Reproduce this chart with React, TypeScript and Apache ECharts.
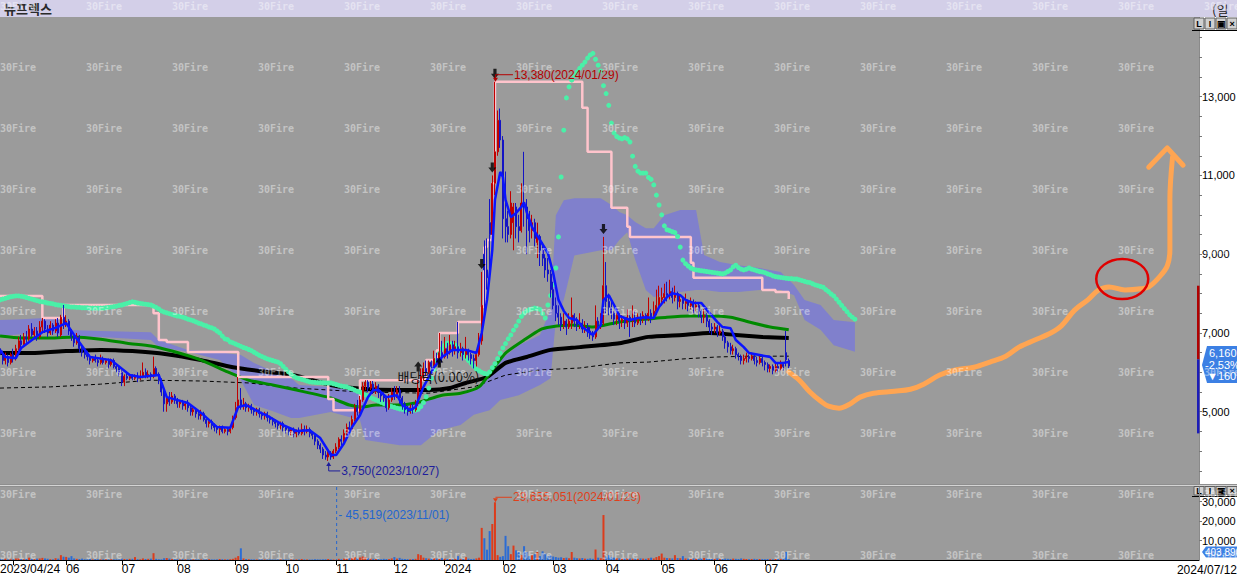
import React, { useEffect, useRef } from 'react';
import * as echarts from 'echarts';

const stockName = '뉴프렉스';
const periodLabel = '(일';
const SLOT_COUNT = 454;
const PRICE_MIN = 3164;
const PRICE_MAX = 15024;
const VOL_MAX = 37500;

const monthTicks: [number, string][] = [
  [0, '2023/04/24'], [5, ''], [25, '06'], [46, '07'], [67, '08'], [89, '09'], [108, '10'], [127, '11'],
  [149, '12'], [168, '2024'], [190, '02'], [209, '03'], [229, '04'], [250, '05'], [270, '06'], [289, '07'],
];
const endDateLabel = '2024/07/12';
const priceLabels = [5000, 7000, 9000, 11000, 13000];
const priceTicks = [3500, 4000, 4500, 5000, 5500, 6000, 6500, 7000, 7500, 8000, 8500, 9000, 9500, 10000, 10500, 11000, 11500, 12000, 12500, 13000, 13500, 14000, 14500, 15000];
const volumeLabels = [10000, 20000, 30000];

// [open, close, low, high]
const candles = [
  [6600,6450,6350,6700],[6450,6300,6200,6550],[6300,6400,6200,6500],[6400,6250,6150,6450],[6250,6450,6200,6500],
  [6450,6350,6250,6600],[6350,6600,6300,6700],[6600,6800,6550,6900],[6800,6700,6600,6950],[6700,6900,6650,7000],
  [6900,6850,6750,7050],[6850,7100,6800,7200],[7100,6950,6900,7250],[6950,7050,6850,7150],[7050,6900,6800,7150],
  [6900,7150,6850,7300],[7150,7300,7050,7380],[7300,7100,7000,7350],[7100,7000,6900,7200],[7000,7200,6950,7300],
  [7200,7050,6950,7250],[7050,7250,7000,7350],[7250,7000,6900,7380],[6950,7400,6900,7460],[7400,7250,7100,7710],
  [7250,7300,7150,7450],[7300,7050,6950,7350],[7050,6900,6800,7100],[6900,6750,6650,7000],[6750,6900,6700,7000],
  [6900,6600,6500,6950],[6600,6500,6400,6700],[6500,6450,6350,6600],[6450,6400,6300,6550],[6400,6300,6200,6450],
  [6300,6350,6250,6400],[6350,6300,6250,6450],[6300,6250,6150,6350],[6250,6350,6200,6450],[6350,6250,6200,6400],
  [6250,6300,6200,6350],[6300,6200,6100,6350],[6200,6300,6150,6350],[6300,6150,6100,6350],[6150,6100,6000,6200],
  [6100,6000,5900,6150],[6000,5750,5650,6050],[5750,5900,5650,5950],[5900,5850,5800,6000],[5850,5900,5800,5950],
  [5900,5850,5800,5950],[5850,5900,5800,5950],[5900,5850,5750,6000],[5850,5900,5800,6050],[5900,6000,5850,6250],
  [6000,5900,5850,6100],[5900,5950,5850,6050],[5950,5900,5800,6000],[5900,6100,5850,6400],[6100,5950,5900,6150],
  [5950,5800,5700,6000],[5800,5500,5400,5850],[5500,5200,5000,5550],[5200,5350,5000,5400],[5350,5250,5150,5500],
  [5250,5400,5200,5500],[5400,5300,5200,5450],[5300,5200,5100,5350],[5200,5250,5100,5300],[5250,5150,5050,5300],
  [5150,5200,5050,5250],[5200,5100,5000,5300],[5100,5000,4900,5150],[5000,5050,4900,5100],[5050,4950,4850,5100],
  [4950,4900,4800,5000],[4900,4950,4800,5050],[4950,4800,4750,5000],[4800,4700,4600,4850],[4700,4750,4600,4800],
  [4750,4650,4550,4800],[4650,4600,4500,4700],[4600,4550,4450,4650],[4550,4600,4400,4650],[4600,4500,4450,4650],
  [4500,4550,4450,4600],[4550,4500,4400,4600],[4500,4600,4450,4650],[4600,4850,4550,4900],[4850,5100,4800,5250],
  [5100,5300,5050,5880],[5300,5150,5050,5600],[5150,5200,5050,5350],[5200,5100,5000,5250],[5100,5150,5000,5200],
  [5150,5050,4950,5200],[5050,5000,4900,5100],[5000,5050,4900,5100],[5050,4950,4850,5100],[4950,4900,4800,5000],
  [4900,4950,4800,5000],[4950,4850,4750,5000],[4850,4800,4700,4900],[4800,4750,4650,4850],[4750,4700,4600,4800],
  [4700,4650,4550,4750],[4650,4700,4550,4750],[4700,4600,4500,4750],[4600,4550,4450,4650],[4550,4500,4400,4600],
  [4500,4550,4400,4600],[4550,4450,4350,4600],[4450,4500,4350,4550],[4500,4450,4400,4600],[4450,4550,4400,4700],
  [4550,4500,4400,4650],[4500,4550,4450,4650],[4550,4450,4350,4600],[4450,4400,4300,4500],[4400,4250,4150,4450],
  [4250,4150,4050,4300],[4150,4050,3950,4200],[4050,3900,3800,4100],[3900,3850,3780,4000],[3850,3950,3750,4000],
  [3950,3850,3780,4000],[3850,4000,3800,4050],[4000,4100,3950,4200],[4100,4300,4050,4350],[4300,4250,4150,4400],
  [4250,4450,4200,4550],[4450,4600,4400,4700],[4600,4550,4450,4750],[4550,4800,4500,4900],[4800,5100,4750,5200],
  [5100,5000,4900,5300],[5000,5300,4950,5400],[5300,5650,5250,5750],[5650,5750,5550,5800],[5750,5600,5500,5800],
  [5600,5700,5550,5780],[5700,5550,5450,5780],[5550,5650,5450,5750],[5650,5500,5350,5700],[5500,5400,5250,5550],
  [5400,5350,5250,5500],[5350,5100,5000,5400],[5100,5300,5050,5450],[5300,5500,5250,5600],[5500,5400,5300,5650],
  [5400,5550,5350,5650],[5550,5350,5200,5650],[5350,5200,5050,5400],[5200,5050,4950,5250],[5050,5000,4900,5150],
  [5000,5100,4950,5200],[5100,5050,4950,5200],[5050,5200,5000,5300],[5200,5600,5150,5800],[5600,5900,5550,6100],
  [5900,6100,5800,6250],[6100,6000,5900,6300],[6000,6250,5950,6300],[6250,6150,6050,6300],[6150,6350,6100,6550],
  [6350,6250,6150,6500],[6250,6500,6200,7000],[6500,6400,6250,6800],[6400,6600,6350,6900],[6600,6500,6350,6750],
  [6500,6700,6450,6950],[6700,6550,6400,6800],[6550,6650,6450,6800],[6650,6500,6350,7280],[6500,6600,6400,6750],
  [6600,6450,6300,6650],[6450,6550,6350,6900],[6550,6450,6300,6600],[6450,6350,6200,6500],[6350,6300,6100,6450],
  [6300,6450,6150,6550],[6450,6800,6400,7000],[6800,7700,6700,8550],[9000,8600,7500,9350],[8600,8400,8100,9400],
  [9800,9500,8600,10400],[9500,10800,9300,11000],[10800,11600,10500,13380],[11600,12400,11500,12650],[12400,11900,11700,12700],
  [11900,9900,9400,12000],[9900,9700,9300,11100],[9700,9500,9300,10100],[9500,10300,9400,10600],[9800,10200,9100,10300],
  [10200,9700,9400,10300],[9700,9600,9300,10000],[9600,10300,9550,10800],[10300,10200,9700,11600],[10200,9900,9000,10400],
  [9900,9600,9300,10100],[9600,9800,9400,10000],[9800,9400,9200,9900],[9300,9450,8900,9800],[9450,9100,8700,9500],
  [9100,8900,8700,9300],[8900,8600,8400,9000],[8600,8500,8300,8900],[8500,8100,7900,8600],[8100,7700,7600,8300],
  [7700,7500,7300,7900],[7500,7400,7200,7700],[7400,7200,7050,7500],[7200,7300,7100,7500],[7300,7150,6950,7350],
  [7150,7300,7100,7500],[7250,7450,7100,7900],[7450,7300,7150,7500],[7300,7200,7050,7400],[7200,7250,7100,7500],
  [7250,7100,7000,7350],[7100,7150,7000,7300],[7150,7050,6900,7250],[7050,6950,6850,7150],[6950,6900,6800,7050],
  [6900,7300,6850,7700],[7300,7200,7100,7400],[7200,7250,7100,7500],[7250,8200,7200,9440],[8200,7800,7500,8800],
  [7800,7650,7450,8000],[7650,7500,7350,7800],[7500,7350,7200,7550],[7350,7450,7200,7500],[7450,7300,7100,7500],
  [7300,7350,7150,7450],[7350,7250,7100,7400],[7250,7400,7150,7600],[7400,7300,6900,7450],[7300,7350,7150,7700],
  [7350,7250,7150,7550],[7250,7400,7200,7500],[7400,7350,7200,7500],[7350,7450,7250,7550],[7450,7350,7200,7500],
  [7350,7500,7300,7900],[7500,7400,7250,7600],[7400,7550,7350,7800],[7550,7700,7450,8100],[7700,7900,7600,8200],
  [7850,7900,7700,8150],[7900,8000,7750,8250],[8000,7950,7800,8300],[7950,8050,7850,8350],[8050,7900,7750,8150],
  [7900,8000,7800,8200],[8000,7800,7600,8050],[7800,7850,7650,7950],[7850,7750,7600,7900],[7750,7800,7600,8000],
  [7800,7700,7550,7850],[7700,7750,7600,7900],[7750,7650,7500,7850],[7650,7700,7550,7800],[7700,7550,7400,7750],
  [7550,7400,7250,7600],[7400,7450,7250,7600],[7450,7300,7150,7500],[7300,7150,7000,7350],[7150,7100,6950,7250],
  [7100,7150,7000,7250],[7150,7000,6900,7200],[7000,7050,6950,7250],[7050,6900,6800,7100],[6900,6750,6600,6950],
  [6750,6650,6500,6800],[6650,6550,6450,6750],[6550,6600,6450,6700],[6600,6450,6350,6650],[6450,6400,6300,6500],
  [6400,6300,6200,6450],[6300,6350,6200,6450],[6350,6400,6250,6500],[6400,6350,6250,6450],[6350,6400,6300,6500],
  [6400,6300,6200,6450],[6300,6250,6150,6400],[6250,6350,6200,6450],[6350,6250,6150,6400],[6250,6200,6050,6300],
  [6200,6100,6000,6250],[6100,6150,6000,6200],[6150,6050,5950,6200],[6050,6150,6000,6250],[6150,6100,6000,6250],
  [6100,6200,6050,6300],[6200,6150,6050,6250],[6500,6320,6150,7050],[6300,6160,6100,6350],
];

// volume in thousands of shares
const volumes = [
  520,310,640,280,400,350,760,900,450,380,600,1200,520,430,700,800,1100,800,640,420,350,900,700,2500,1700,
  1600,1200,2000,800,600,500,700,400,350,600,300,450,380,300,400,350,300,420,380,350,300,700,500,400,600,
  600,1500,400,350,800,500,600,700,3500,600,400,350,900,1000,700,500,400,350,300,450,300,280,350,320,300,
  280,300,250,350,400,300,280,320,500,400,300,350,400,600,1200,2000,6000,800,500,400,350,300,280,320,300,
  280,260,300,250,240,280,300,260,240,220,260,240,300,280,500,300,260,240,280,400,350,300,350,400,500,
  300,250,45.519,600,400,700,800,900,1000,1500,800,1300,1800,1500,900,700,600,500,450,400,600,500,450,800,1500,
  700,1100,600,500,450,400,500,600,3000,2500,1200,900,700,800,1000,700,600,900,700,500,450,400,600,2000,500,
  600,1500,700,500,600,800,1200,16500,11200,5300,14850,18500,29655.051,2500,1650,2000,12400,7100,3000,7400,4950,4100,2500,7100,4100,
  2000,2500,3000,4100,2000,4450,3300,2000,2500,1800,1500,1200,1400,1000,1200,900,4100,1200,900,800,1000,700,600,800,600,
  5400,1200,900,23100,1700,2500,1500,1200,900,800,700,1000,800,700,600,900,600,800,700,600,900,1200,800,1500,2000,
  3300,1200,1000,900,800,2500,1000,900,2000,800,700,600,800,700,600,900,1000,700,600,500,600,800,600,500,700,
  600,500,700,600,500,800,600,500,400,500,600,400,500,450,400,500,450,400,500,600,500,700,4100,403.89,
];

// moving averages read as [slot, price]
const ma5 = [[0,6570],[2,6390],[6,6360],[8,6620],[16,7020],[21,7130],[25,7250],[28,6950],[34,6390],[42,6310],[49,5930],[53,5880],[60,5930],[63,5370],[71,5220],[76,4970],[82,4610],[87,4590],[90,5120],[93,5170],[98,4990],[102,4860],[107,4660],[112,4510],[117,4530],[121,4330],[125,3900],[127,3900],[130,4200],[133,4610],[136,4910],[139,5370],[141,5550],[143,5550],[146,5370],[150,5420],[152,5170],[155,5040],[157,5120],[160,5630],[164,6130],[167,6390],[171,6570],[176,6570],[180,6490],[182,7000],[184,7840],[186,9110],[187,10380],[189,11090],[190,10960],[191,10380],[193,9940],[195,10050],[197,10200],[198,10320],[199,10070],[201,9690],[204,9360],[207,9030],[209,8520],[211,7840],[213,7560],[215,7380],[218,7330],[220,7150],[224,6950],[227,7200],[228,7840],[230,7960],[232,7710],[234,7430],[238,7330],[241,7380],[244,7400],[247,7380],[249,7660],[252,7910],[254,8010],[257,7960],[259,7840],[262,7760],[265,7760],[268,7510],[271,7280],[273,7150],[276,7120],[278,6820],[281,6640],[283,6490],[287,6440],[291,6390],[293,6240],[296,6240],[298,6260]];
const ma60 = [[0,6920],[8,6870],[19,6870],[28,6900],[38,6840],[48,6740],[57,6670],[65,6540],[76,6310],[86,6010],[94,5800],[103,5680],[112,5550],[125,5350],[132,5170],[137,5120],[142,5170],[150,5170],[157,5220],[167,5420],[174,5470],[181,5630],[186,6060],[191,6490],[198,6820],[204,7080],[208,7150],[216,7200],[224,7150],[234,7280],[241,7330],[252,7400],[261,7430],[268,7430],[276,7400],[283,7280],[291,7150],[298,7080]];
const ma120 = [[0,6490],[12,6490],[25,6540],[38,6570],[50,6540],[63,6460],[76,6310],[88,6130],[101,6010],[111,5930],[125,5680],[137,5580],[150,5550],[162,5550],[170,5600],[176,5730],[184,5880],[191,6240],[199,6390],[208,6570],[219,6640],[234,6740],[245,6900],[258,6950],[268,7000],[278,6950],[288,6900],[298,6870]];
const ma240 = [[0,5600],[19,5630],[38,5700],[57,5800],[76,5780],[94,5730],[112,5600],[137,5500],[162,5470],[179,5630],[191,5930],[204,6060],[219,6110],[234,6240],[245,6260],[258,6340],[271,6390],[283,6410],[298,6410]];
const highLine = [[0,7940],[16,7380],[24,7710],[58,7500],[60,6820],[63,6770],[71,6515],[90,5880],[124,5320],[126,5040],[136,5800],[161,6310],[165,6560],[166,7000],[173,7280],[182,7660],[183,9180],[184,9360],[186,10800],[187,13380],[220,12720],[222,11600],[231,10180],[237,9700],[238,9440],[261,8780],[262,8400],[288,8090],[293,8040],[298,7860]];

// dotted indicator, one value per slot
const aqua = [
  7840,7860,7880,7900,7920,7930,7940,7940,7930,7920, 7900,7880,7860,7840,7820,7800,7790,7780,7760,7750,
  7740,7720,7710,7700,7690,7680,7670,7660,7660,7650, 7650,7640,7640,7640,7630,7630,7630,7630,7630,7630,
  7640,7650,7660,7670,7680,7700,7710,7730,7750,7770, 7790,7780,7760,7750,7740,7730,7720,7710,7680,7650,
  7610,7560,7530,7510,7490,7470,7450,7430,7420,7400, 7380,7350,7330,7310,7280,7250,7230,7200,7180,7150,
  7130,7100,7050,7000,6920,6850,6830,6770,6750,6720, 6690,6660,6630,6610,6580,6550,6510,6470,6430,6400,
  6370,6340,6320,6300,6280,6260,6220,6150,6080,6010, 5950,5900,5860,5840,5820,5800,5780,5760,5750,5745,
  5740,5740,5735,5730,5730,5730,5710,5690,5670,5650, 5640,5630,5600,5580,5550,5520,5500,5460,5430,5400,
  5360,5330,5300,5270,5240,5210,5180,5150,5130,5110, 5090,5070,5060,5050,5040,5040,5040,5040,5060,5130,
  5230,5380,5600,5850,6070,6300,6480,6600,6690,6740, 6730,6710,6690,6620,6550,6470,6370,6300,6230,6150,
  6080,6040,6000,5970,5960,6010,6120,6220,6350,6490, 6620,6730,6850,6950,7070,7180,7300,7420,7500,7560,
  7590,7610,7630,7620,7600,7490,7380,7710,7950,8220, 8650,9440,10960,12150,12970,13250,13420,13540,13630,13720,
  13800,13880,13980,14060,14100,13950,13800,13650,13280,13080, 12780,12330,12080,11990,11950,11930,11960,11930,11850,11490,
  11230,11110,11060,11060,11060,10950,10900,10760,10500,10250, 10000,9720,9620,9600,9570,9550,9450,9180,8850,8760,
  8700,8650,8620,8600,8590,8580,8570,8560,8550,8540, 8530,8520,8510,8500,8520,8560,8600,8680,8720,8660,
  8620,8600,8620,8650,8620,8600,8580,8560,8550,8530, 8500,8480,8450,8430,8420,8410,8400,8390,8380,8380,
  8370,8370,8350,8330,8310,8290,8280,8250,8220,8200, 8180,8160,8100,8050,7990,7940,7860,7780,7700,7620,
  7540,7460,7400,7350,
];

// cloud boundaries
const cloudIdx = [0,8,17,22,23,38,57,60,71,83,91,96,102,110,113,125,136,138,151,159,166,174,179,185,189,196,204,208,210,213,217,227,231,234,237,240,244,247,251,257,263,266,272,279,287,295,300,304,310,315,323];
const cloudTop = [7330,7350,7380,7380,7080,7050,7020,6820,6570,6510,6440,6240,6060,5850,5680,5630,5500,5170,5170,5250,5350,5420,5550,5930,6310,6690,6950,7580,9990,10370,10420,10420,10250,10070,9990,9820,9660,9660,9990,10120,10120,8980,8800,8720,8650,8550,8220,7840,7710,7330,7270];
const cloudBot = [6920,6970,7020,6970,6920,6900,6820,6640,6520,6310,5800,5170,5040,4840,4840,4990,4790,4280,4150,4150,4530,4660,4920,5040,5300,5420,5680,5850,7330,7840,8970,9100,9100,9360,9560,8850,8090,7910,7960,8040,8090,8090,8040,8040,8090,8090,7960,7330,7080,6690,6520];

const signalDown = [[182, 8550], [186, 11000], [187, 13380], [228, 9440]];
const signalUp = [[158, 6150], [166, 6250]];
const dividendMark = { idx: 166, price: 5900, text: '배당락(0.00%)' };

const peakIdx = 187, peakDate = '2024/01/29';
const troughIdx = 124, troughDate = '2023/10/27';
const minVolIdx = 127, minVolDate = '2023/11/01';
const rangeBar = [8200, 6330, 4450];

// hand-drawn forecast stroke
const forecastPath = [[298,6010],[302,5800],[306,5500],[310,5270],[313,5140],[317,5090],[321,5190],[325,5370],[330,5470],[338,5520],[344,5570],[349,5700],[355,5930],[361,6060],[368,6130],[374,6260],[380,6410],[385,6640],[391,6820],[397,7000],[401,7180],[406,7580],[411,7840],[415,8090],[419,8170],[425,8090],[431,8120],[434,8170],[438,8420],[441,8700],[442,9110],[442,10380],[443,11470]];
const forecastArrow = [[434,11210],[441,11700],[447,11260]];
const circleMark = { idx: 424, price: 8370 };

const FONT = '"Liberation Sans", Arial, sans-serif';
const KFONT = '"Noto Sans CJK KR", sans-serif';

export default function App() {
  const ref = useRef<HTMLDivElement>(null);
  useEffect(() => {
    const el = ref.current!;
    const chart = echarts.init(el, null, { renderer: 'svg' });
    const categories = Array.from({ length: SLOT_COUNT }, (_, i) => String(i));
    const tickMap = new Map(monthTicks);
    const volData = volumes.map((v, i) => ({
      value: v,
      itemStyle: { color: candles[i][1] >= candles[i][0] ? '#dc3c1c' : '#2c6cd4' },
    }));
    const cloudData = cloudIdx.map((d, k) => [d, cloudTop[k], cloudBot[k]]);
    const lineS = (data: any, color: string, width: number, z: number, extra: any = {}) => ({
      type: 'line', xAxisIndex: 0, yAxisIndex: 0, data, showSymbol: false, silent: true, z,
      lineStyle: { color, width, ...(extra.lineStyle || {}) }, ...extra.rest,
    });

    chart.setOption({
      animation: false,
      grid: [
        { left: 0, top: 17, width: 1199, height: 467, show: true, backgroundColor: '#9b9b9b', borderWidth: 0, outerBoundsMode: 'none' },
        { left: 0, top: 487, width: 1199, height: 73, show: true, backgroundColor: '#9b9b9b', borderWidth: 0, outerBoundsMode: 'none' },
      ],
      xAxis: [
        { type: 'category', gridIndex: 0, data: categories, boundaryGap: false, axisLine: { show: false }, axisTick: { show: false }, axisLabel: { show: false }, splitLine: { show: false } },
        {
          type: 'category', gridIndex: 1, data: categories, boundaryGap: false, position: 'bottom',
          axisLine: { show: true, lineStyle: { color: '#000', width: 1 } },
          axisTick: { show: true, length: 5, lineStyle: { color: '#000' }, interval: (i: number) => i > 0 && tickMap.has(i) },
          axisLabel: {
            show: true, interval: (i: number) => tickMap.has(i) && tickMap.get(i) !== '',
            formatter: (_v: string, i: number) => tickMap.get(i) ?? '',
            align: 'left', margin: 3, color: '#000', fontSize: 12, fontFamily: FONT,
          },
          splitLine: { show: false },
        },
      ],
      yAxis: [
        {
          type: 'value', gridIndex: 0, position: 'right', min: PRICE_MIN, max: PRICE_MAX, scale: true,
          axisLine: { show: true, lineStyle: { color: '#8a8a8a', width: 1 } },
          axisTick: { show: true, length: 3, customValues: priceTicks, lineStyle: { color: '#777' } },
          axisLabel: { show: true, customValues: priceLabels, margin: 3, color: '#000', fontSize: 11, fontFamily: FONT, formatter: (v: number) => v.toLocaleString('en-US') },
          splitLine: { show: false },
        },
        {
          type: 'value', gridIndex: 1, position: 'right', min: 0, max: VOL_MAX,
          axisLine: { show: true, lineStyle: { color: '#8a8a8a', width: 1 } },
          axisTick: { show: true, length: 3, customValues: volumeLabels, lineStyle: { color: '#777' } },
          axisLabel: { show: true, customValues: volumeLabels, margin: 3, color: '#000', fontSize: 11, fontFamily: FONT, formatter: (v: number) => v.toLocaleString('en-US') },
          splitLine: { show: false },
          z: 40,
        },
      ],
      series: [
        {
          type: 'custom', xAxisIndex: 0, yAxisIndex: 0, data: cloudData, encode: { x: 0, y: [1, 2] }, z: 1, silent: true,
          renderItem: (params: any, api: any) => {
            if (params.dataIndex !== 0) return null;
            const pts: number[][] = [];
            for (let k = 0; k < cloudIdx.length; k++) pts.push(api.coord([cloudIdx[k], cloudTop[k]]));
            for (let k = cloudIdx.length - 1; k >= 0; k--) pts.push(api.coord([cloudIdx[k], cloudBot[k]]));
            return { type: 'polygon', shape: { points: pts }, style: { fill: '#8080cc' } };
          },
        },
        lineS(ma240, '#000', 1, 2, { lineStyle: { type: [4, 3] } }),
        lineS(ma120, '#000', 4, 2, { rest: { smooth: 0.2 } }),
        lineS(ma60, '#008a00', 3, 2, { rest: { smooth: 0.2 } }),
        {
          type: 'line', xAxisIndex: 0, yAxisIndex: 0, data: aqua, silent: true, z: 3,
          showSymbol: true, showAllSymbol: true, symbol: 'circle', symbolSize: 5,
          itemStyle: { color: '#4af0a8' }, lineStyle: { width: 0, opacity: 0 },
        },
        lineS(highLine, '#ffc4cc', 2.5, 3, { rest: { step: 'end' } }),
        {
          type: 'candlestick', xAxisIndex: 0, yAxisIndex: 0, data: candles, barWidth: 1.5, z: 4, silent: true,
          itemStyle: { color: '#c00000', color0: '#1414c4', borderColor: '#c00000', borderColor0: '#1414c4', borderWidth: 1 },
        },
        lineS(ma5, '#0a14ff', 2.5, 5),
        {
          type: 'scatter', xAxisIndex: 0, yAxisIndex: 0, data: signalDown, z: 6, silent: true,
          symbol: 'path://M3,0L7,0L7,6L10,6L5,12L0,6L3,6Z', symbolSize: [8, 10], symbolOffset: [0, -8],
          itemStyle: { color: '#000' },
        },
        {
          type: 'scatter', xAxisIndex: 0, yAxisIndex: 0, data: signalUp, z: 6, silent: true,
          symbol: 'path://M5,0L10,6L7,6L7,12L3,12L3,6L0,6Z', symbolSize: [8, 10],
          itemStyle: { color: '#000' },
        },
        lineS(forecastPath, '#ffa552', 5, 6, { lineStyle: { cap: 'round', join: 'round' }, rest: { smooth: 0.35 } }),
        lineS(forecastArrow, '#ffa552', 5, 6, { lineStyle: { cap: 'round', join: 'round' } }),
        {
          type: 'bar', xAxisIndex: 1, yAxisIndex: 1, data: volData, barWidth: 2, silent: true, z: 3,
        },
      ],
    });

    const P = (i: number, v: number) => chart.convertToPixel({ xAxisIndex: 0, yAxisIndex: 0 }, [i, v]) as number[];
    const V = (i: number, v: number) => chart.convertToPixel({ xAxisIndex: 1, yAxisIndex: 1 }, [i, v]) as number[];
    const T = (x: number, y: number, s: string, font: string, fill: string, align = 'left', z = 30) => ({
      type: 'text', x, y, z, silent: true,
      style: { text: s, font, fill, align, textAlign: align, verticalAlign: 'middle', textVerticalAlign: 'middle' },
    });
    const Ln = (x1: number, y1: number, x2: number, y2: number, stroke: string, lineWidth = 1, lineDash?: number[]) => ({
      type: 'line', z: 30, silent: true, shape: { x1, y1, x2, y2 }, style: { stroke, lineWidth, lineDash },
    });
    const Pg = (points: number[][], fill: string, z = 30) => ({ type: 'polygon', z, silent: true, shape: { points }, style: { fill } });
    const R = (x: number, y: number, w: number, h: number, fill: string, stroke?: string, z = 25) => ({
      type: 'rect', z, silent: true, shape: { x, y, width: w, height: h }, style: { fill, stroke, lineWidth: stroke ? 1 : 0 },
    });

    const g: any[] = [];
    // title bar
    g.push(R(0, 0, 1237, 17, '#d3cfe8', undefined, 5));
    g.push(T(4, 8.5, stockName, `bold 13px ${KFONT}`, '#2a2a2a'));
    g.push(T(1212, 9, periodLabel, `13px ${KFONT}`, '#222'));
    // separator between panels
    g.push(R(0, 484, 1237, 3, '#8e8e8e', undefined, 5));
    g.push(Ln(0, 485.5, 1237, 485.5, '#d4d4d4', 1));
    // panel buttons
    const buttons = (y: number, h: number) => {
      const labels = ['L', 'I', '▣', '×'];
      const xs = [1194, 1205, 1216, 1227];
      labels.forEach((s, k) => {
        g.push(R(xs[k], y, 10, h, '#d0d0d0', '#606060', 26));
        g.push(T(xs[k] + 5, y + h / 2, s, `bold 9px ${FONT}`, '#000', 'center', 27));
      });
      g.push(Ln(1192, y + h + 1.5, 1237, y + h + 1.5, '#000', 1));
    };
    buttons(18, 11);
    buttons(486.5, 8.5);

    // price range bar on the axis
    const rb = rangeBar.map((v) => P(0, v)[1]);
    g.push(R(1197, rb[0], 2.5, rb[1] - rb[0], '#b00000', undefined, 26));
    g.push(R(1197, rb[1], 2.5, rb[2] - rb[1], '#1c1cb8', undefined, 26));

    // high annotation
    const hp = P(peakIdx, candles[peakIdx][3]);
    const red = '#b40000';
    g.push(Ln(hp[0] + 0.5, hp[1] - 7, hp[0] + 18, hp[1] - 7, red, 1));
    g.push(Ln(hp[0] + 0.5, hp[1] - 7, hp[0] + 0.5, hp[1] - 2, red, 1));
    g.push(Pg([[hp[0] - 2, hp[1] - 4], [hp[0] + 3, hp[1] - 4], [hp[0] + 0.5, hp[1]]], red));
    g.push(T(hp[0] + 19, hp[1] - 7, `${candles[peakIdx][3].toLocaleString('en-US')}(${peakDate})`, `12px ${FONT}`, red));

    // low annotation
    const lp = P(troughIdx, candles[troughIdx][2]);
    const navy = '#1e1e9c';
    g.push(Ln(lp[0] + 0.5, lp[1] + 2, lp[0] + 0.5, lp[1] + 10, navy, 1));
    g.push(Ln(lp[0] + 0.5, lp[1] + 10, lp[0] + 12, lp[1] + 10, navy, 1));
    g.push(Pg([[lp[0] - 2, lp[1] + 5], [lp[0] + 3, lp[1] + 5], [lp[0] + 0.5, lp[1] + 1]], navy));
    g.push(T(lp[0] + 13, lp[1] + 10, `${candles[troughIdx][2].toLocaleString('en-US')}(${troughDate})`, `12px ${FONT}`, navy));

    // dividend label
    const dp = P(dividendMark.idx, dividendMark.price);
    g.push(T(dp[0] - 1, dp[1], dividendMark.text, `13px ${KFONT}`, '#111', 'center'));

    // volume peak annotation
    const vp = V(peakIdx, volumes[peakIdx]);
    const vred = '#e0401a';
    g.push(Ln(vp[0] + 0.5, vp[1] - 5, vp[0] + 17, vp[1] - 5, vred, 1));
    g.push(Pg([[vp[0] - 2, vp[1] - 4], [vp[0] + 3, vp[1] - 4], [vp[0] + 0.5, vp[1]]], vred));
    g.push(T(vp[0] + 18, vp[1] - 5, `${Math.round(volumes[peakIdx] * 1000).toLocaleString('en-US')}(${peakDate})`, `12px ${FONT}`, vred));

    // volume minimum annotation
    const mp = V(minVolIdx, volumes[minVolIdx]);
    const vtop = V(minVolIdx, VOL_MAX)[1];
    const vblue = '#2466d0';
    g.push(Ln(mp[0] + 0.5, vtop, mp[0] + 0.5, mp[1], vblue, 1, [3, 3]));
    g.push(T(mp[0] + 2, vtop + 28, `- ${Math.round(volumes[minVolIdx] * 1000).toLocaleString('en-US')}(${minVolDate})`, `12px ${FONT}`, vblue));

    // current price tag
    const last = candles[candles.length - 1][1];
    const prev = candles[candles.length - 2][1];
    const ty = P(candles.length - 1, last)[1] - 1;
    g.push(Pg([[1202, ty], [1207, ty - 19], [1237, ty - 19], [1237, ty + 18], [1207, ty + 18]], '#3c80e4', 28));
    g.push(T(1209, ty - 12, last.toLocaleString('en-US'), `11px ${FONT}`, '#fff', 'left', 31));
    g.push(T(1205, ty, `${(((last - prev) / prev) * 100).toFixed(2)}%`, `11px ${FONT}`, '#fff', 'left', 31));
    g.push(T(1207, ty + 11, `▼${Math.abs(last - prev)}`, `11px ${FONT}`, '#fff', 'left', 31));

    // volume tag
    const vy = V(0, 0)[1] - 8;
    g.push(Pg([[1202, vy], [1206, vy - 5.5], [1237, vy - 5.5], [1237, vy + 5.5], [1206, vy + 5.5]], '#3c80e4', 28));
    g.push(T(1205, vy, Math.round(volumes[volumes.length - 1] * 1000).toLocaleString('en-US'), `10px ${FONT}`, '#fff', 'left', 31));

    // end date label
    g.push(T(1237, 570, endDateLabel, `12px ${FONT}`, '#000', 'right'));

    // red circle
    const cp = P(circleMark.idx, circleMark.price);
    g.push({ type: 'ellipse', z: 32, silent: true, shape: { cx: cp[0], cy: cp[1], rx: 26, ry: 20 }, style: { fill: 'none', stroke: '#e00000', lineWidth: 2.5 } });

    // watermark
    for (let r = 0; r < 10; r++) {
      for (let c = 0; c < 15; c++) {
        g.push(T(c * 86, 6 + r * 61, '30Fire', 'bold 10px "DejaVu Sans Mono", monospace', 'rgba(255,255,255,0.42)', 'left', 100));
      }
    }

    chart.setOption({ graphic: { elements: g } });
    return () => chart.dispose();
  }, []);
  return <div ref={ref} style={{ position: 'fixed', left: 0, top: 0, width: 1237, height: 579, background: '#fff' }} />;
}
